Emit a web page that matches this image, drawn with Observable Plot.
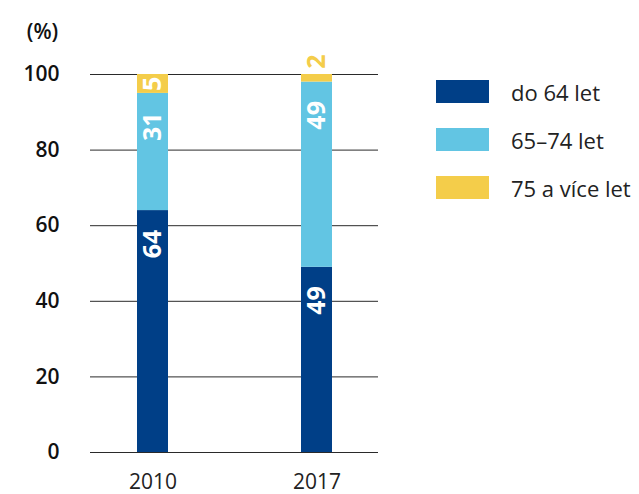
<!DOCTYPE html>
<html>
<head>
<meta charset="utf-8">
<script src="https://cdn.jsdelivr.net/npm/d3@7"></script>
<script src="https://cdn.jsdelivr.net/npm/@observablehq/plot@0.6"></script>
<style>
  html, body { margin: 0; padding: 0; background: #fff; }
  #wrap { position: relative; width: 639px; height: 494px; font-family: "Open Sans", sans-serif; }
  #legend { position: absolute; left: 436px; top: 80px; }
  .item { display: flex; align-items: center; height: 23px; margin-bottom: 25px; }
  .sw { width: 53px; height: 23px; margin-right: 22px; flex: none; }
  .lab { font-size: 22px; color: #222; white-space: nowrap; }
</style>
</head>
<body>
<div id="wrap"></div>
<script>
const years = ["2010", "2017"];
const groups = ["do 64 let", "65–74 let", "75 a více let"];
const values2010 = [64, 31, 5];
const values2017 = [49, 49, 2];
const colors = ["#003f87", "#62c5e3", "#f4cd4a"];
const yTicks = [0, 20, 40, 60, 80, 100];

const series = [values2010, values2017];
const rows = years.flatMap((yr, i) => {
  let base = 0;
  return groups.map((g, j) => {
    const r = { year: yr, group: g, value: series[i][j], base };
    base += series[i][j];
    return r;
  });
});

const chart = Plot.plot({
  width: 639,
  height: 494,
  marginLeft: 90,
  marginRight: 261,
  marginTop: 74,
  marginBottom: 42,
  style: { fontFamily: "Open Sans, sans-serif", background: "transparent", overflow: "visible" },
  x: { domain: years, paddingInner: 0.812, paddingOuter: 0.28, label: null, tickSize: 0, tickPadding: 22 },
  y: { domain: [0, 100], ticks: yTicks, label: null, tickSize: 0, tickPadding: 31 },
  color: { domain: groups, range: colors },
  marks: [
    Plot.ruleY(yTicks, { stroke: "#2a2a2a", strokeWidth: 1 }),
    Plot.barY(rows, { x: "year", y1: "base", y2: d => d.base + d.value, fill: "group", inset: 0 }),
    Plot.text(rows.filter(d => d.value >= 10), {
      x: "year", y: d => d.base + d.value, text: d => String(d.value),
      rotate: -90, textAnchor: "end", dy: 19, fill: "white", fontWeight: 700, fontSize: 25
    }),
    Plot.text(rows.filter(d => d.value >= 4 && d.value < 10), {
      x: "year", y: d => d.base + d.value / 2, text: d => String(d.value),
      rotate: -90, textAnchor: "middle", fill: "white", fontWeight: 700, fontSize: 25
    }),
    Plot.text(rows.filter(d => d.value < 4), {
      x: "year", y: d => d.base + d.value, text: d => String(d.value),
      rotate: -90, textAnchor: "middle", dy: -13, fill: colors[2], fontWeight: 700, fontSize: 25
    }),
    Plot.text(["(%)"], { frameAnchor: "top-left", dx: -48, dy: -50, text: d => d, fontSize: 21, fontWeight: 600, fill: "#111", textAnchor: "middle" })
  ]
});

d3.select(chart).selectAll("g[aria-label='y-axis tick label']")
  .attr("font-size", 21).attr("font-weight", 600).attr("fill", "#111");
d3.select(chart).selectAll("g[aria-label='x-axis tick label']")
  .attr("font-size", 21).attr("fill", "#222");

document.getElementById("wrap").appendChild(chart);

const legend = d3.select("#wrap").append("div").attr("id", "legend");
groups.forEach((g, i) => {
  const it = legend.append("div").attr("class", "item");
  it.append("div").attr("class", "sw").style("background", colors[i]);
  it.append("div").attr("class", "lab").text(g);
});
</script>
</body>
</html>
